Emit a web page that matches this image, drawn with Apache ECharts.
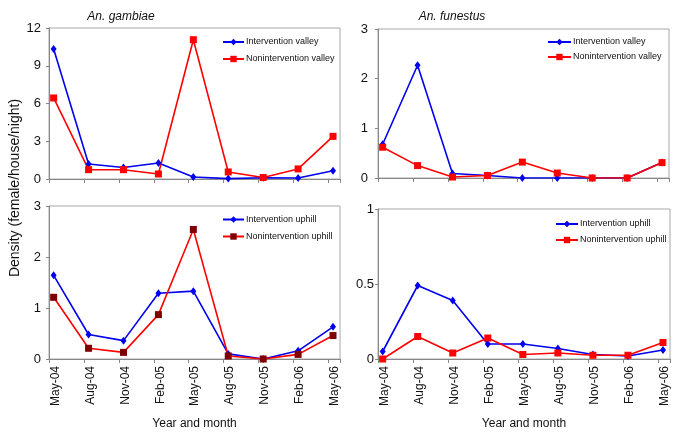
<!DOCTYPE html>
<html>
<head>
<meta charset="utf-8">
<script src="https://cdn.jsdelivr.net/npm/echarts@6/dist/echarts.min.js"></script>
<style>html,body{margin:0;padding:0;background:#fff}#c{width:685px;height:435px}</style>
</head>
<body>
<div id="c"></div>
<script>
const categories = ['May-04','Aug-04','Nov-04','Feb-05','May-05','Aug-05','Nov-05','Feb-06','May-06'];
const gambiaeInterventionValley    = [10.33, 1.19, 0.92, 1.27, 0.16, 0.03, 0.10, 0.08, 0.66];
const gambiaeNoninterventionValley = [6.44, 0.74, 0.74, 0.40, 11.07, 0.56, 0.12, 0.80, 3.39];
const funestusInterventionValley    = [0.68, 2.27, 0.09, 0.05, 0.00, 0.00, 0.00, 0.00, 0.31];
const funestusNoninterventionValley = [0.62, 0.25, 0.02, 0.05, 0.32, 0.10, 0.00, 0.00, 0.31];
const gambiaeInterventionUphill    = [1.64, 0.48, 0.36, 1.29, 1.33, 0.10, 0.00, 0.16, 0.63];
const gambiaeNoninterventionUphill = [1.21, 0.21, 0.13, 0.87, 2.54, 0.06, 0.00, 0.09, 0.46];
const funestusInterventionUphill    = [0.05, 0.49, 0.39, 0.10, 0.10, 0.07, 0.03, 0.02, 0.06];
const funestusNoninterventionUphill = [0.00, 0.15, 0.04, 0.14, 0.03, 0.04, 0.025, 0.025, 0.11];
const yMax = [12, 3, 3, 1];
const yStep = [3, 1, 1, 0.5];

const FONT = 'Liberation Sans, Arial, sans-serif';
const BLUE = '#0000ee', RED = '#ff0000', DARKRED = '#800000';
const MONTHS_PER_STEP = 3, MID = 0.4;
const toPts = arr => arr.map((v, i) => [i * MONTHS_PER_STEP + MID, v]);

const grids = [
  {left: 49, top: 28, width: 291, height: 151},
  {left: 378, top: 29, width: 291, height: 149},
  {left: 49, top: 206, width: 291, height: 153},
  {left: 378, top: 209, width: 292, height: 150}
].map(g => Object.assign(g, {show: true, borderColor: '#a8a8a8', borderWidth: 1, backgroundColor: 'transparent',
  containLabel: false, outerBoundsMode: 'none'}));

const yMargins = [8, 10, 8, 4];
const xAxes = grids.map((g, k) => ({
  type: 'value', gridIndex: k, min: 0, max: 25, interval: 3,
  axisLine: {show: true, lineStyle: {color: '#888', width: 1}},
  axisTick: {show: true, length: 4, lineStyle: {color: '#888'}},
  splitLine: {show: false},
  axisLabel: {
    show: k >= 2, rotate: 90, margin: 7, fontSize: 12, fontFamily: FONT, color: '#111',
    verticalAlign: 'top', lineHeight: 13,
    formatter: v => (v % 3 === 0 && v / 3 < categories.length) ? categories[v / 3] : ''
  },
  name: k >= 2 ? 'Year and month' : '',
  nameLocation: 'middle', nameGap: 65,
  nameTextStyle: {fontSize: 12, fontFamily: FONT, color: '#111', verticalAlign: 'middle'}
}));
const yAxes = grids.map((g, k) => ({
  type: 'value', gridIndex: k, min: 0, max: yMax[k], interval: yStep[k],
  axisLine: {show: true, lineStyle: {color: '#888', width: 1}},
  axisTick: {show: true, length: 3, lineStyle: {color: '#888'}},
  splitLine: {show: false},
  axisLabel: {margin: yMargins[k], fontSize: 13, fontFamily: FONT, color: '#111'}
}));

function mk(name, data, k, color, symbol, size, symColor) {
  return {
    name, type: 'line', xAxisIndex: k, yAxisIndex: k, data: toPts(data),
    symbol, symbolSize: size, showAllSymbol: true,
    lineStyle: {color, width: 1.6},
    itemStyle: {color: symColor || color},
    emphasis: {disabled: true}
  };
}
const series = [
  mk('Intervention valley', gambiaeInterventionValley, 0, BLUE, 'diamond', [6, 8]),
  mk('Nonintervention valley', gambiaeNoninterventionValley, 0, RED, 'rect', 7),
  mk('Intervention valley ', funestusInterventionValley, 1, BLUE, 'diamond', [6, 8]),
  mk('Nonintervention valley ', funestusNoninterventionValley, 1, RED, 'rect', 7),
  mk('Intervention uphill', gambiaeInterventionUphill, 2, BLUE, 'diamond', [6, 8]),
  mk('Nonintervention uphill', gambiaeNoninterventionUphill, 2, RED, 'rect', 7, DARKRED),
  mk('Intervention uphill ', funestusInterventionUphill, 3, BLUE, 'diamond', [6, 8]),
  mk('Nonintervention uphill ', funestusNoninterventionUphill, 3, RED, 'rect', 7)
];

const legendBase = {orient: 'vertical', itemHeight: 8, selectedMode: false, padding: 0,
  textStyle: {fontSize: 9, fontFamily: FONT, color: '#111', padding: [0, 0, 0, -3]}};
const legends = [
  Object.assign({}, legendBase, {data: [series[0].name, series[1].name], left: 222, top: 37.5, itemWidth: 21, itemGap: 8}),
  Object.assign({}, legendBase, {data: [series[2].name, series[3].name], left: 547, top: 37.5, itemWidth: 23, itemGap: 6}),
  Object.assign({}, legendBase, {data: [series[4].name, series[5].name], left: 222, top: 215, itemWidth: 21, itemGap: 8}),
  Object.assign({}, legendBase, {data: [series[6].name, series[7].name], left: 555, top: 219.5, itemWidth: 22, itemGap: 7})
];

const chart = echarts.init(document.getElementById('c'), null, {renderer: 'canvas'});
chart.setOption({
  animation: false,
  backgroundColor: '#fff',
  grid: grids, xAxis: xAxes, yAxis: yAxes, series, legend: legends,
  graphic: [
    {type: 'text', x: 121, y: 17, style: {text: 'An. gambiae', font: 'italic 12px ' + FONT, fill: '#111', align: 'center', verticalAlign: 'middle'}},
    {type: 'text', x: 452, y: 17, style: {text: 'An. funestus', font: 'italic 12px ' + FONT, fill: '#111', align: 'center', verticalAlign: 'middle'}},
    {type: 'text', x: 15, y: 188, rotation: Math.PI / 2, style: {text: 'Density (female/house/night)', font: '14px ' + FONT, fill: '#111', align: 'center', verticalAlign: 'middle'}}
  ]
});
</script>
</body>
</html>
